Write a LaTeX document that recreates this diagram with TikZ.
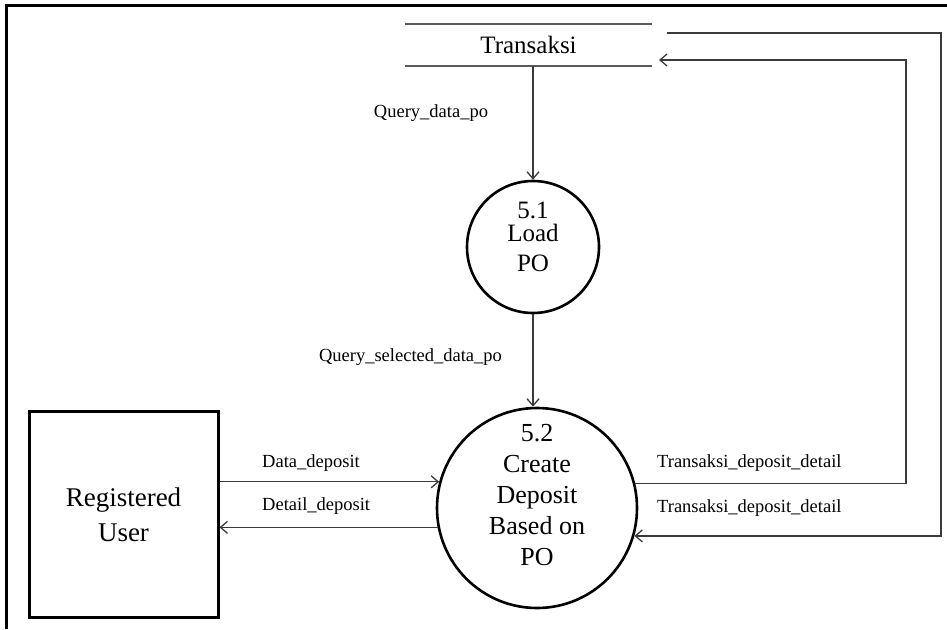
\documentclass[tikz,border=0pt]{standalone}
\usepackage{fontspec}
\setmainfont{Liberation Serif}
\usetikzlibrary{arrows.meta}
\definecolor{flow}{HTML}{3A3A3A}
\definecolor{storeline}{HTML}{5A5A5A}
\tikzset{
  process/.style={circle, draw=black, line width=2.6pt, inner sep=0pt},
  entity/.style={rectangle, draw=black, line width=3pt, inner sep=0pt},
  datastore/.style={inner sep=0pt, font=\fontsize{25}{30}\selectfont},
  bigtext/.style={align=center, inner sep=0pt},
  flowlabel/.style={inner sep=0pt, font=\fontsize{18.5}{22}\selectfont},
  dataflow/.style={draw=flow, line width=1.3pt, -{Straight Barb[length=7pt,width=12pt,line width=1.3pt]}},
}
\begin{document}
\begin{tikzpicture}[x=1pt,y=-1pt]
  \useasboundingbox (0,0) rectangle (947,629);

  % outer frame (top and left edges)
  \draw[line width=3pt] (947,5) -- (6,5) -- (6,629);

  % data store
  \node[datastore, minimum width=247pt, minimum height=42pt] (tr) at (528.5,45) {Transaksi};
  \draw[storeline, line width=2pt] (tr.north west) -- (tr.north east);
  \draw[storeline, line width=2pt] (tr.south west) -- (tr.south east);

  % processes
  \node[process, minimum size=132pt] (p51) at (533,247) {};
  \node[bigtext, font=\fontsize{25}{28}\selectfont] (p51n) at (533,210) {5.1};
  \node[bigtext, font=\fontsize{25}{30}\selectfont] (p51t) at (533,248) {Load\\PO};

  \node[process, minimum size=200pt] (p52) at (537,508) {};
  \node[bigtext, font=\fontsize{26}{31}\selectfont] (p52t) at (537,495) {5.2\\Create\\Deposit\\Based on\\PO};

  % external entity
  \node[entity, minimum width=189pt, minimum height=206pt] (ru) at (123.5,514) {};
  \node[bigtext, font=\fontsize{27}{35}\selectfont] (rut) at (123.5,515) {Registered\\User};

  % bend points of the loops on the right
  \coordinate (tin) at (659,60);
  \coordinate (r1) at (906,60);
  \coordinate (tout) at (667,33);
  \coordinate (r2) at (941,33);

  % data flows
  \draw[dataflow] (p51.north |- tr.south) -- (p51.north);
  \draw[dataflow] (p51.south) -- (p51.south |- p52.north);
  \draw[dataflow] (ru.east |- p52.165.5) -- (p52.165.5);
  \draw[dataflow] (p52.191) -- (ru.east |- p52.191);
  \draw[dataflow] (p52.14.5) -| (r1) -- (tin);
  \draw[dataflow] (tout) -- (r2) |- (p52.-16.3);

  % flow labels
  \node[flowlabel] (l1) at (431,113) {Query\_data\_po};
  \node[flowlabel] (l2) at (410.5,357) {Query\_selected\_data\_po};
  \node[flowlabel, anchor=west] (l3) at (262,463) {Data\_deposit};
  \node[flowlabel, anchor=west] (l4) at (262,506) {Detail\_deposit};
  \node[flowlabel, anchor=west] (l5) at (657,463) {Transaksi\_deposit\_detail};
  \node[flowlabel, anchor=west] (l6) at (657,508) {Transaksi\_deposit\_detail};
\end{tikzpicture}
\end{document}
